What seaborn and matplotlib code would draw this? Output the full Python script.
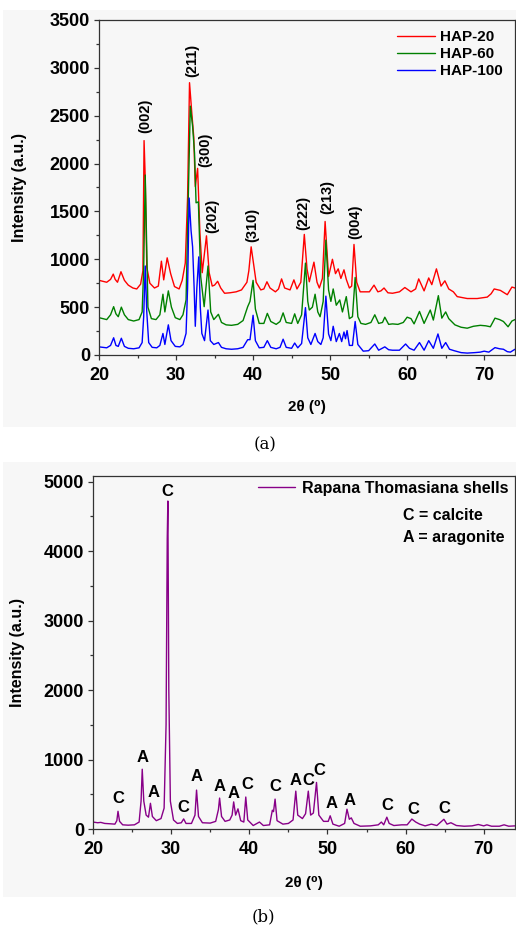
import matplotlib
matplotlib.use("Agg")
import matplotlib.pyplot as plt
from matplotlib.patches import Rectangle
from matplotlib.ticker import MultipleLocator
import pandas as pd
import seaborn as sns

# (a) XRD of HAP samples
hap20_x = [20.0, 20.5, 21.0, 21.5, 21.85, 22.1, 22.4, 22.85, 23.3, 23.8, 24.4, 24.9, 25.4, 25.7, 25.85, 26.0, 26.2, 26.6,
           27.2, 27.7, 28.1, 28.4, 28.85, 29.3, 29.8, 30.4, 30.8, 31.2, 31.5, 31.75, 32.05, 32.3, 32.5, 32.8, 33.1, 33.4,
           33.95, 34.3, 34.7, 35.0, 35.4, 35.8, 36.3, 37.0, 37.8, 38.5, 39.2, 39.45, 39.75, 40.05, 40.4, 41.0, 41.4,
           41.8, 42.2, 42.9, 43.3, 43.7, 44.1, 44.8, 45.3, 45.7, 46.2, 46.65, 47.0, 47.3, 47.9, 48.3, 48.6, 49.0, 49.35,
           49.8, 50.3, 50.7, 51.05, 51.4, 51.8, 52.1, 52.5, 52.8, 53.1, 53.45, 53.9, 54.3, 55.1, 55.7, 56.2, 56.6, 57.0,
           57.5, 58.1, 59.0, 59.7, 60.5, 61.1, 61.5, 62.2, 62.8, 63.2, 63.8, 64.4, 64.9, 65.4, 66.0, 66.5, 67.8, 69.1,
           70.4, 70.9, 71.3, 72.1, 73.0, 73.6, 74.0]
hap20_y = [780, 770, 760, 790, 845, 790, 760, 870, 780, 730, 700, 690, 740, 880, 2240, 1850, 920, 750,
           700, 720, 980, 785, 1015, 850, 715, 690, 780, 960, 1650, 2845, 2525, 2280, 1760, 1950, 1275, 860,
           1245, 860, 720, 730, 770, 700, 645, 650, 660, 680, 760, 880, 1130, 960, 760, 680, 690,
           765, 700, 660, 690, 795, 700, 680, 785, 690, 760, 1260, 900, 765, 970, 760, 700, 800, 1395,
           820, 1000, 850, 900, 800, 890, 790, 700, 720, 1155, 760, 660, 660, 660, 730, 660, 670, 700,
           650, 645, 660, 705, 660, 690, 795, 670, 805, 735, 900, 720, 775, 690, 660, 610, 590, 590,
           605, 640, 690, 675, 630, 710, 700]

hap60_x = [20.0, 20.5, 21.0, 21.5, 21.9, 22.2, 22.5, 22.9, 23.3, 23.8, 24.5, 25.2, 25.6, 25.8, 26.0, 26.15, 26.35, 26.8,
           27.4, 27.9, 28.3, 28.55, 29.0, 29.4, 29.9, 30.5, 30.9, 31.3, 31.55, 31.85, 32.15, 32.4, 32.6, 32.9, 33.2,
           33.65, 34.15, 34.5, 34.9, 35.5, 35.9, 36.5, 37.2, 38.0, 38.7, 39.3, 39.6, 40.0, 40.3, 40.8, 41.4, 41.85,
           42.3, 43.0, 43.5, 43.9, 44.3, 45.0, 45.4, 45.8, 46.3, 46.8, 47.1, 47.3, 47.7, 48.05, 48.4, 48.7, 49.1, 49.45,
           49.8, 50.1, 50.4, 50.8, 51.25, 51.6, 52.1, 52.5, 52.9, 53.25, 53.6, 54.0, 54.6, 55.3, 55.8, 56.3, 56.8, 57.1,
           57.6, 58.1, 58.8, 59.5, 60.0, 60.5, 60.9, 61.6, 62.2, 63.0, 63.4, 64.05, 64.5, 65.0, 65.4, 66.2, 67.0, 67.8,
           68.6, 69.5, 70.2, 70.8, 71.4, 72.0, 72.5, 73.1, 73.6, 74.0]
hap60_y = [390, 380, 370, 420, 505, 430, 400, 500, 420, 370, 355, 370, 450, 900, 1880, 1300, 500, 380,
           370, 420, 635, 450, 670, 500, 390, 370, 420, 575, 1500, 2600, 2390, 2110, 1590, 1600, 820,
           505, 930, 450, 370, 425, 340, 315, 310, 320, 360, 505, 560, 780, 480, 330, 330, 435,
           350, 320, 350, 440, 340, 330, 430, 330, 420, 960, 560, 470, 500, 635, 450, 400, 560, 1200,
           680, 560, 690, 520, 575, 450, 610, 380, 400, 810, 400, 330, 320, 340, 420, 330, 340, 395,
           320, 325, 320, 340, 395, 380, 325, 455, 330, 470, 365, 620, 385, 450, 380, 315, 290, 280,
           300, 310, 305, 295, 385, 370, 350, 295, 355, 370]

hap100_x = [20.0, 20.5, 21.0, 21.5, 21.9, 22.2, 22.5, 22.9, 23.3, 23.8, 24.5, 25.2, 25.6, 25.8, 26.0, 26.2, 26.45, 26.9,
            27.5, 27.9, 28.3, 28.55, 29.0, 29.35, 29.9, 30.5, 30.9, 31.3, 31.5, 31.7, 31.95, 32.15, 32.35, 32.5, 32.7,
            32.95, 33.15, 33.35, 33.7, 34.15, 34.45, 34.9, 35.5, 35.9, 36.5, 37.2, 38.0, 38.7, 39.3, 39.6, 40.0, 40.3,
            40.8, 41.4, 41.85, 42.3, 43.0, 43.5, 43.9, 44.3, 45.0, 45.4, 45.8, 46.3, 46.8, 47.1, 47.5, 48.05, 48.4, 48.8,
            49.1, 49.45, 49.8, 50.1, 50.4, 50.8, 51.2, 51.5, 51.8, 52.0, 52.2, 52.5, 52.9, 53.25, 53.6, 54.3, 55.0, 55.8,
            56.3, 57.1, 57.6, 58.1, 59.0, 59.8, 60.3, 60.9, 61.6, 62.2, 62.8, 63.4, 64.0, 64.5, 65.0, 65.5, 66.1, 67.0,
            67.8, 68.8, 69.5, 70.0, 70.6, 71.4, 72.0, 72.5, 73.0, 73.4, 74.0]
hap100_y = [85, 80, 75, 100, 180, 100, 90, 175, 90, 70, 65, 75, 130, 400, 930, 450, 130, 80,
            75, 100, 225, 110, 315, 150, 90, 85, 110, 226, 700, 1640, 1300, 1130, 700, 300, 700,
            1025, 500, 225, 150, 470, 150, 110, 130, 80, 65, 60, 65, 80, 160, 160, 415, 150,
            75, 80, 150, 80, 65, 80, 165, 80, 70, 125, 75, 120, 495, 180, 110, 225, 140, 110,
            180, 615, 220, 150, 300, 140, 225, 140, 240, 170, 255, 100, 100, 350, 110, 40, 45, 115,
            50, 85, 55, 50, 50, 115, 70, 50, 130, 50, 150, 70, 220, 70, 130, 60, 45, 25,
            20, 25, 30, 40, 30, 77, 65, 60, 35, 30, 60]

hap_names = ["HAP-20", "HAP-60", "HAP-100"]
hap_colors = ["#ff0000", "#008000", "#0000ff"]

hkl_labels = ["(002)", "(211)", "(300)", "(202)", "(310)", "(222)", "(213)", "(004)"]
hkl_x = [26.0, 32.1, 33.8, 34.7, 39.85, 46.5, 49.6, 53.25]
hkl_y = [2320, 2905, 1965, 1275, 1180, 1306, 1473, 1212]

# (b) XRD of Rapana Thomasiana shells
shell_x = [20.0, 20.6, 21.0, 21.5, 22.2, 22.8, 23.05, 23.2, 23.4, 23.8, 24.5, 25.3, 25.9, 26.15, 26.3, 26.5, 26.8, 27.1,
           27.35, 27.6, 28.1, 28.7, 29.1, 29.35, 29.5, 29.58, 29.7, 29.9, 30.3, 30.8, 31.3, 31.6, 31.9, 32.6, 33.05,
           33.25, 33.5, 34.0, 35.0, 35.7, 36.05, 36.2, 36.45, 36.9, 37.5, 37.8, 38.0, 38.25, 38.55, 38.9, 39.3, 39.55,
           39.8, 40.5, 41.3, 41.8, 42.6, 42.95, 43.1, 43.3, 43.55, 44.3, 45.0, 45.6, 45.95, 46.2, 46.8, 47.2, 47.55,
           47.85, 48.2, 48.6, 48.9, 49.5, 50.1, 50.35, 50.7, 51.5, 52.2, 52.5, 52.8, 53.05, 53.4, 54.2, 55.5, 56.5,
           56.9, 57.2, 57.6, 57.9, 58.5, 59.5, 60.2, 60.8, 61.3, 61.8, 62.5, 63.3, 64.0, 64.9, 65.3, 65.8, 66.5, 67.5,
           68.5, 69.3, 70.0, 70.4, 71.0, 72.0, 72.6, 73.2, 74.0]
shell_y = [100, 90, 95, 80, 75, 70, 120, 255, 110, 60, 55, 60, 100, 400, 860, 400, 200, 170,
           370, 180, 120, 150, 300, 1500, 4180, 4720, 2000, 400, 130, 80, 90, 145, 80, 80, 200,
           560, 180, 90, 85, 110, 280, 445, 180, 110, 130, 200, 390, 200, 290, 120, 100, 460,
           130, 50, 100, 50, 60, 270, 250, 430, 120, 70, 80, 130, 545, 200, 150, 220, 545,
           200, 230, 670, 200, 110, 110, 190, 70, 40, 80, 285, 140, 160, 80, 40, 45, 60,
           100, 60, 170, 80, 50, 60, 60, 143, 100, 70, 45, 70, 50, 140, 70, 90, 50, 40,
           45, 65, 45, 60, 40, 40, 60, 40, 45]
shell_name = "Rapana Thomasiana shells"
shell_color = "#880088"

phase_labels = ["C", "A", "A", "C", "C", "A", "A", "A", "C", "C", "A", "C", "C", "A", "A", "C", "C", "C"]
phase_x = [23.3, 26.3, 27.7, 29.5, 31.6, 33.2, 36.2, 38.0, 39.7, 43.3, 45.9, 47.5, 48.9, 50.5, 52.8, 57.6, 61.0, 65.0]
phase_y = [445, 1030, 530, 4864, 315, 760, 617, 517, 645, 617, 703, 703, 846, 373, 416, 344, 287, 301]


def style_axis(ax, ymax, ymajor, yminor):
    ax.set_xlim(20, 74)
    ax.set_ylim(0, ymax)
    ax.xaxis.set_major_locator(MultipleLocator(10))
    ax.xaxis.set_minor_locator(MultipleLocator(5))
    ax.yaxis.set_major_locator(MultipleLocator(ymajor))
    ax.yaxis.set_minor_locator(MultipleLocator(yminor))
    ax.tick_params(which="major", direction="out", length=3.5, width=0.9, labelsize=13, pad=3,
                   color="#333333", labelcolor="black")
    ax.tick_params(axis="x", which="major", pad=5)
    ax.tick_params(which="minor", direction="out", length=2.2, width=0.9, color="#333333")
    for s in ax.spines.values():
        s.set_visible(True)
        s.set_color("#333333")
        s.set_linewidth(0.9)
    ax.set_facecolor("none")
    ax.set_xlabel("2θ (⁰)", fontsize=11, fontweight="bold", color="black")
    ax.set_ylabel("Intensity (a.u.)", fontsize=11.5, fontweight="bold", color="black")


def main():
    sns.set_style("ticks")
    plt.rcParams["font.family"] = ["Liberation Sans", "DejaVu Sans"]
    plt.rcParams["font.weight"] = "bold"
    plt.rcParams["text.color"] = "black"

    fig = plt.figure(figsize=(5.16, 9.27), dpi=100)
    fig.add_artist(Rectangle((3 / 516, 1 - 427 / 927), 513 / 516, 417 / 927, transform=fig.transFigure,
                             facecolor="#f7f7f7", edgecolor="none", zorder=-5))
    fig.add_artist(Rectangle((3 / 516, 1 - 897 / 927), 513 / 516, 435 / 927, transform=fig.transFigure,
                             facecolor="#f7f7f7", edgecolor="none", zorder=-5))

    # --- panel (a)
    ax1 = fig.add_axes([99 / 516, 1 - 355 / 927, 416 / 516, 335 / 927])
    frames = []
    for name, xs, ys in zip(hap_names, [hap20_x, hap60_x, hap100_x], [hap20_y, hap60_y, hap100_y]):
        frames.append(pd.DataFrame({"two_theta": xs, "intensity": ys, "sample": name}))
    df_a = pd.concat(frames, ignore_index=True)
    sns.lineplot(data=df_a, x="two_theta", y="intensity", hue="sample", hue_order=hap_names,
                 palette=hap_colors, estimator=None, sort=False, linewidth=1.0, ax=ax1)
    style_axis(ax1, 3500, 500, 250)
    ax1.xaxis.set_label_coords(0.5, -0.134)
    ax1.yaxis.set_label_coords(-0.173, 0.5)
    handles, labels = ax1.get_legend_handles_labels()
    ax1.legend(handles, labels, loc="upper left", bbox_to_anchor=(0.716, 0.97), frameon=False,
               borderpad=0, borderaxespad=0, handlelength=2.5, handletextpad=0.3, labelspacing=0.2,
               prop={"size": 11, "weight": "bold"})
    for lab, x, y in zip(hkl_labels, hkl_x, hkl_y):
        ax1.text(x, y, lab, rotation=90, ha="center", va="bottom", fontsize=10.5, fontweight="bold")

    # --- panel (b)
    ax2 = fig.add_axes([93 / 516, 1 - 829 / 927, 422 / 516, 353 / 927])
    df_b = pd.DataFrame({"two_theta": shell_x, "intensity": shell_y, "sample": shell_name})
    sns.lineplot(data=df_b, x="two_theta", y="intensity", hue="sample", palette=[shell_color],
                 estimator=None, sort=False, linewidth=1.0, ax=ax2)
    style_axis(ax2, 5080, 1000, 500)
    ax2.xaxis.set_label_coords(0.5, -0.133)
    ax2.yaxis.set_label_coords(-0.161, 0.5)
    handles, labels = ax2.get_legend_handles_labels()
    ax2.legend(handles, labels, loc="upper left", bbox_to_anchor=(0.391, 0.986), frameon=False,
               borderpad=0, borderaxespad=0, handlelength=2.3, handletextpad=0.45,
               prop={"size": 11.5, "weight": "bold"})
    ax2.text(0.735, 0.887, "C = calcite", transform=ax2.transAxes, ha="left", va="center", fontsize=11.5)
    ax2.text(0.735, 0.827, "A = aragonite", transform=ax2.transAxes, ha="left", va="center", fontsize=11.5)
    for lab, x, y in zip(phase_labels, phase_x, phase_y):
        ax2.text(x, y, lab, ha="center", va="center", fontsize=12, fontweight="bold")

    fig.text(265 / 516, 1 - 445 / 927, "(a)", ha="center", va="center", fontsize=12,
             family="DejaVu Serif", fontweight="normal")
    fig.text(263 / 516, 1 - 917 / 927, "(b)", ha="center", va="center", fontsize=12,
             family="DejaVu Serif", fontweight="normal")

    fig.savefig("out.png", dpi=100)


main()
